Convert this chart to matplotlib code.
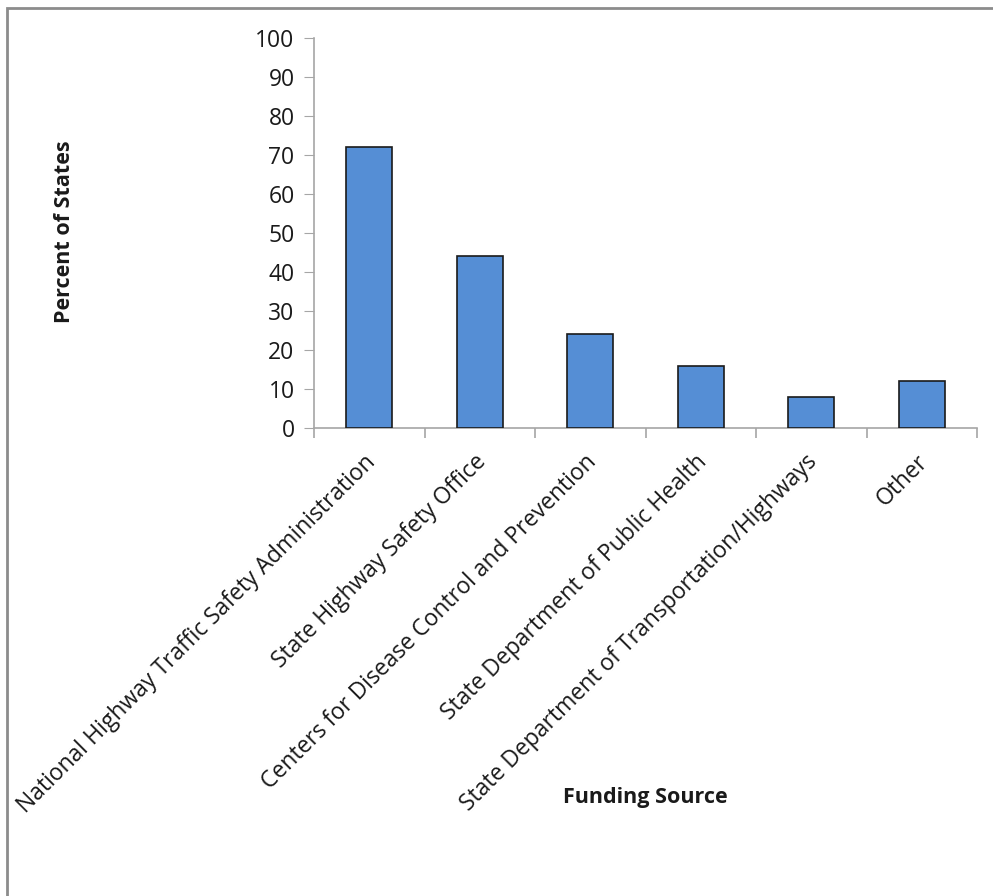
import numpy as np
import matplotlib
matplotlib.use("Agg")
import matplotlib.pyplot as plt
from matplotlib.patches import Rectangle
from matplotlib.transforms import ScaledTranslation

# Data
categories = [
    "National Highway Traffic Safety Administration",
    "State Highway Safety Office",
    "Centers for Disease Control and Prevention",
    "State Department of Public Health",
    "State Department of Transportation/Highways",
    "Other",
]
percent_states = [72, 44, 24, 16, 8, 12]
y_ticks = list(range(0, 101, 10))

plt.rcParams["font.family"] = ["Open Sans", "DejaVu Sans"]

W, H = 993, 896
fig = plt.figure(figsize=(W / 100, H / 100), dpi=100)
ax = fig.add_axes([314 / W, 1 - 428 / H, (977 - 314) / W, (428 - 38) / H])

x = np.arange(len(categories))
ax.bar(x, percent_states, width=0.42, color="#558ED5", edgecolor="#1a1a1a", linewidth=1.2, zorder=3)

ax.set_xlim(-0.5, len(categories) - 0.5)
ax.set_ylim(0, 100)
ax.set_yticks(y_ticks)
ax.tick_params(axis="y", labelsize=16.5, length=7, color="#A6A6A6", pad=7, labelcolor="#1a1a1a")

# category labels at centres, tick marks at the boundaries
ax.set_xticks(x)
ax.set_xticklabels(categories, rotation=45, ha="right", rotation_mode="anchor", fontsize=16.5, color="#1a1a1a")
ax.tick_params(axis="x", which="major", length=0, pad=16)
ax.set_xticks(np.arange(-0.5, len(categories)), minor=True)
ax.tick_params(axis="x", which="minor", length=7, color="#A6A6A6", width=1.2)

# nudge rotated labels a little to the left, like the original
shift = ScaledTranslation(-6 / 100, 0, fig.dpi_scale_trans)
for lbl in ax.get_xticklabels():
    lbl.set_transform(lbl.get_transform() + shift)

for s in ["top", "right"]:
    ax.spines[s].set_visible(False)
for s in ["left", "bottom"]:
    ax.spines[s].set_color("#A6A6A6")
    ax.spines[s].set_linewidth(1.2)

fig.text(65 / W, 1 - 232 / H, "Percent of States", rotation=90, ha="center", va="center",
         fontsize=15.5, fontweight="bold", color="#1a1a1a")
fig.text(645 / W, 1 - 797 / H, "Funding Source", ha="center", va="center",
         fontsize=15.5, fontweight="bold", color="#1a1a1a")

# outer chart border (only left and top visible in the crop)
fig.add_artist(Rectangle((7 / W, -0.1), 1.2, 1.1 - 8 / H, transform=fig.transFigure,
                         fill=False, edgecolor="#8c8c8c", linewidth=2))

fig.savefig("out.png", dpi=100)
